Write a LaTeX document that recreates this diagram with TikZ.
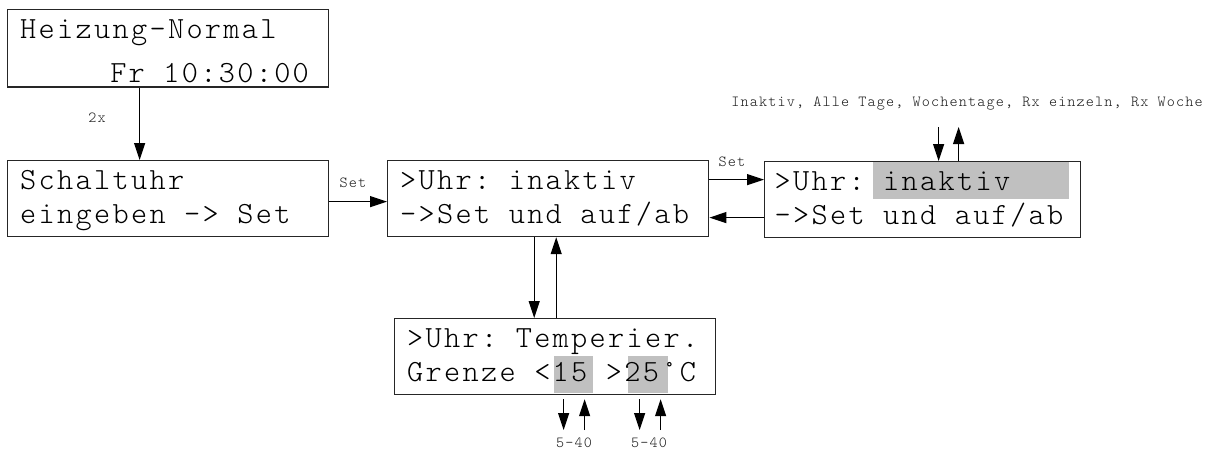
\documentclass[tikz,border=0pt]{standalone}
\usepackage{fontspec}
\newfontfamily\lcdfont{lmmonolt10-regular.otf}[LetterSpace=7.5]
\usetikzlibrary{arrows.meta}
\pgfdeclarelayer{background}
\pgfsetlayers{background,main}
\colorlet{display edge}{black!85}
\definecolor{cursor area}{RGB}{192,192,192}
\newcommand{\lcdstrut}{\rule[-4.5pt]{0pt}{17pt}}
\newcommand{\lcdspace}{\spaceskip=9.24pt\xspaceskip=9.24pt\relax}
\newcommand{\lcd}[2]{\lcdspace\lcdstrut#1\\\lcdstrut#2}
\newcommand{\hintfont}{\fontsize{7.7}{9}\selectfont\lcdfont\spaceskip=4.62pt\xspaceskip=4.62pt\relax}
\tikzset{
  display/.style={draw=display edge, line width=0.6pt, anchor=north west, align=left,
    text width=148pt, inner xsep=6.3pt, inner ysep=2pt, font=\fontsize{15.4}{17}\selectfont\lcdfont},
  hint/.style={font=\hintfont, text=black!90, inner sep=0pt}
  }
\tikzstyle{step edge} = [draw, line width=0.6pt, -{Triangle[length=8.5pt,width=5.5pt]}]
\tikzstyle{cursor} = [fill=cursor area]

\begin{document}
\begin{tikzpicture}[x=0.5pt, y=-0.5pt]
  \useasboundingbox (0,0) rectangle (1232,450);

  % The displays
  \node[display] (heizung) at (7,9) {\lcdspace\lcdstrut Heizung-Normal\\[5pt]\phantom{Heizu}Fr 10:30:00};
  \node[display] (schaltuhr) at (7,160) {\lcd{Schaltuhr}{eingeben -> Set}};
  \node[display] (uhr) at (387,160) {\lcd{>Uhr: inaktiv}{->Set und auf/ab}};
  \node[display, inner xsep=5pt] (auswahl) at (764,161) {\lcd{>Uhr: inaktiv}{->Set und auf/ab}};
  \node[display] (temper) at (394,318) {\lcd{>Uhr: Temperier.}{Grenze <15 >25°C}};

  % The cursor fields
  \begin{pgfonlayer}{background}
    \foreach \from/\to in {{(873,162)}/{(1069,199)}, {(554,356)}/{(593,393)}, {(628,356)}/{(668,393)}}
    \path[cursor] \from rectangle \to;
  \end{pgfonlayer}

  % The key labels
  \node[hint] (zweimal) at (97,118) {2x};
  \node[hint] (set-a) at (353,183) {Set};
  \node[hint] (set-b) at (732,162) {Set};
  \node[hint] (modi) at (967,104) {Inaktiv, Alle Tage, Wochentage, Rx einzeln, Rx Woche};
  \node[hint] (unten) at (574,443) {5-40};
  \node[hint] (oben) at (649,443) {5-40};
  \coordinate (modi-ende) at (948,127);
  \coordinate (grenz-ende) at (610,430);

  % The transitions between them
  \path[step edge] ([xshift=-14.3pt]heizung.south) -- ([xshift=-14.3pt]heizung.south |- schaltuhr.north);
  \path[step edge] ([yshift=-1.5pt]schaltuhr.east) -- ([yshift=-1.5pt]schaltuhr.east -| uhr.west);
  \path[step edge] ([yshift=9.5pt]uhr.east) -- ([yshift=9.5pt]uhr.east -| auswahl.west);
  \path[step edge] ([yshift=-9.5pt]uhr.east -| auswahl.west) -- ([yshift=-9.5pt]uhr.east);
  \path[step edge] ([xshift=-7pt]uhr.south) -- ([xshift=-7pt]uhr.south |- temper.north);
  \path[step edge] ([xshift=4pt]uhr.south |- temper.north) -- ([xshift=4pt]uhr.south);

  % up and down keys
  \path[step edge] ([xshift=8pt]auswahl.north |- modi-ende) -- ([xshift=8pt]auswahl.north);
  \path[step edge] ([xshift=18pt]auswahl.north) -- ([xshift=18pt]auswahl.north |- modi-ende);
  \foreach \dx in {4.2,42.2} {
    \path[step edge, shorten <=2pt] ([xshift=\dx pt]temper.south) -- ([xshift=\dx pt]temper.south |- grenz-ende);
    \path[step edge, shorten >=2pt] ([xshift={(\dx+10.5)*1pt}]temper.south |- grenz-ende) -- ([xshift={(\dx+10.5)*1pt}]temper.south);
  }
\end{tikzpicture}
\end{document}
